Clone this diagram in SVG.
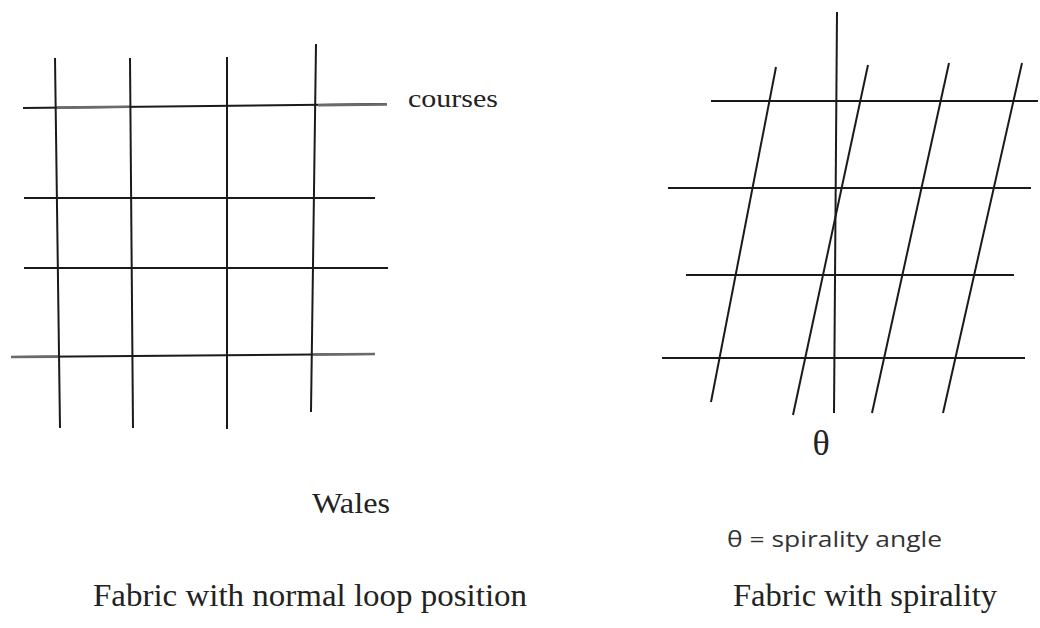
<svg xmlns="http://www.w3.org/2000/svg" width="1040" height="628" viewBox="0 0 1040 628">
<style>
.ln{stroke:#1a1a1a;stroke-width:2;fill:none;stroke-linecap:butt}
.gr{stroke:#6a6a6a;stroke-width:2.6;fill:none}
.serif{font-family:"Liberation Serif","Times New Roman",serif;fill:#222}
.sans{font-family:"Open Sans","Liberation Sans",Arial,sans-serif;fill:#333}
</style>
<rect width="1040" height="628" fill="#ffffff"/>
<g id="normal-fabric">
  <g id="normal-courses">
    <line class="ln" x1="23" y1="108" x2="387" y2="104"/>
    <line class="gr" x1="57" y1="107.6" x2="130" y2="106.8"/>
    <line class="gr" x1="318" y1="105.2" x2="387" y2="104.4"/>
    <line class="ln" x1="24" y1="198" x2="375" y2="198"/>
    <line class="ln" x1="24" y1="268" x2="388" y2="268"/>
    <line class="ln" x1="11" y1="357" x2="375" y2="354"/>
    <line class="gr" x1="11" y1="357" x2="58" y2="356.6"/>
    <line class="gr" x1="313" y1="354.5" x2="375" y2="354"/>
  </g>
  <g id="normal-wales">
    <line class="ln" x1="55" y1="58" x2="60" y2="428"/>
    <line class="ln" x1="130" y1="58" x2="133" y2="428"/>
    <line class="ln" x1="227" y1="57" x2="227" y2="429"/>
    <line class="ln" x1="316" y1="44" x2="311" y2="412"/>
  </g>
  <text id="label-courses" class="serif" x="408" y="107" font-size="26" textLength="90" lengthAdjust="spacingAndGlyphs">courses</text>
  <text id="label-wales" class="serif" x="312" y="513" font-size="29" textLength="78" lengthAdjust="spacingAndGlyphs">Wales</text>
  <text id="caption-normal" class="serif" x="93" y="606" font-size="32" textLength="434" lengthAdjust="spacingAndGlyphs">Fabric with normal loop position</text>
</g>
<g id="spiral-fabric">
  <g id="spiral-courses">
    <line class="ln" x1="711" y1="101" x2="1038" y2="101"/>
    <line class="ln" x1="668" y1="188" x2="1031" y2="188"/>
    <line class="ln" x1="686" y1="275" x2="1014" y2="275"/>
    <line class="ln" x1="662" y1="358" x2="1025" y2="358"/>
  </g>
  <g id="spiral-wales">
    <line class="ln" x1="837" y1="12" x2="834" y2="413"/>
    <line class="ln" x1="776" y1="67" x2="711" y2="402"/>
    <line class="ln" x1="868" y1="65" x2="793" y2="415"/>
    <line class="ln" x1="949" y1="63" x2="872" y2="413"/>
    <line class="ln" x1="1022" y1="63" x2="943" y2="413"/>
  </g>
  <text id="label-theta" class="serif" x="821" y="455" font-size="36" text-anchor="middle">θ</text>
  <text id="label-theta-def" class="sans" x="727" y="547" font-size="21" textLength="215" lengthAdjust="spacingAndGlyphs">θ = spirality angle</text>
  <text id="caption-spiral" class="serif" x="733" y="606" font-size="32" textLength="264" lengthAdjust="spacingAndGlyphs">Fabric with spirality</text>
</g>
</svg>
